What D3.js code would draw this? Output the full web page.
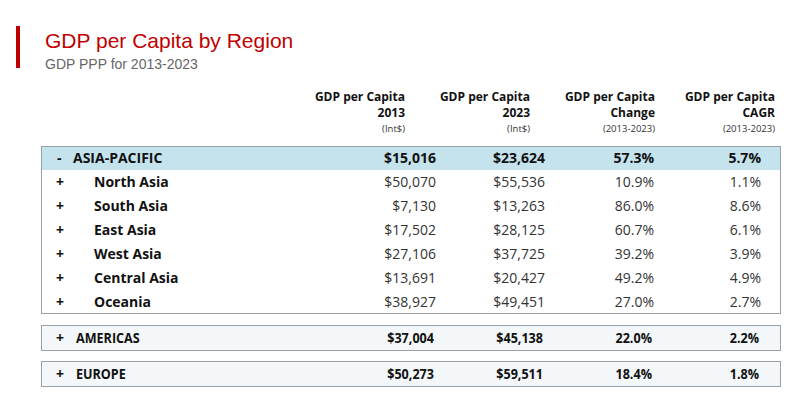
<!DOCTYPE html>
<html>
<head>
<meta charset="utf-8">
<script src="https://cdn.jsdelivr.net/npm/d3@7"></script>
<style>
  body { margin: 0; background: #fff; }
  svg { display: block; }
</style>
</head>
<body>
<div id="chart"></div>
<script>
// Data
const regions = ["ASIA-PACIFIC", "AMERICAS", "EUROPE"];
const regionGdp2013 = [15016, 37004, 50273];
const regionGdp2023 = [23624, 45138, 59511];
const regionChange = [57.3, 22.0, 18.4];
const regionCagr = [5.7, 2.2, 1.8];

const subRegions = ["North Asia", "South Asia", "East Asia", "West Asia", "Central Asia", "Oceania"];
const subGdp2013 = [50070, 7130, 17502, 27106, 13691, 38927];
const subGdp2023 = [55536, 13263, 28125, 37725, 20427, 49451];
const subChange = [10.9, 86.0, 60.7, 39.2, 49.2, 27.0];
const subCagr = [1.1, 8.6, 6.1, 3.9, 4.9, 2.7];

const headers = [
  ["GDP per Capita", "2013", "(Int$)"],
  ["GDP per Capita", "2023", "(Int$)"],
  ["GDP per Capita", "Change", "(2013-2023)"],
  ["GDP per Capita", "CAGR", "(2013-2023)"]
];

const width = 800, height = 403;
const font = "'Open Sans', sans-serif";
const money = d3.format("$,");
const pct = v => d3.format(".1f")(v) + "%";

const svg = d3.select("#chart").append("svg")
    .attr("width", width)
    .attr("height", height);

// Title block
svg.append("rect").attr("x", 16).attr("y", 26).attr("width", 4).attr("height", 42).attr("fill", "#c00000");
svg.append("text").attr("x", 45).attr("y", 48)
    .attr("font-family", "'Liberation Sans', Arial, sans-serif").attr("font-size", 21)
    .attr("fill", "#c00000").text("GDP per Capita by Region");
svg.append("text").attr("x", 45).attr("y", 69)
    .attr("font-family", "'Liberation Sans', Arial, sans-serif").attr("font-size", 14)
    .attr("fill", "#666").text("GDP PPP for 2013-2023");

// Column scales
const cols = [0, 1, 2, 3];
const headX = d3.scaleOrdinal().domain(cols).range([405, 530, 655, 775]);
const valX = d3.scaleOrdinal().domain(cols).range([436, 545, 654, 761]);

// Headers
const head = svg.append("g").attr("font-family", font).attr("text-anchor", "end").attr("fill", "#111");
headers.forEach((h, c) => {
  head.append("text").attr("x", headX(c)).attr("y", 100.5).attr("font-size", 12).attr("font-weight", 700).text(h[0]);
  head.append("text").attr("x", headX(c)).attr("y", 117).attr("font-size", 12).attr("font-weight", 700).text(h[1]);
  head.append("text").attr("x", headX(c)).attr("y", 132).attr("font-size", 9.5).attr("fill", "#333").text(h[2]);
});

const boxX = 41, boxW = 740;

// Asia-Pacific group
const rowY = d3.scaleBand().domain(d3.range(subRegions.length + 1)).range([146, 314]);
const g = svg.append("g").attr("font-family", font);

g.append("rect").attr("x", boxX).attr("y", rowY(0)).attr("width", boxW).attr("height", rowY.bandwidth())
    .attr("fill", "#c5e3ed");
g.append("rect").attr("x", boxX + 0.5).attr("y", 146.5).attr("width", boxW - 1).attr("height", 314 - 146 - 1)
    .attr("fill", "none").attr("stroke", "#9aa0a6");

const ay = rowY(0) + rowY.bandwidth() / 2 + 5;
g.append("text").attr("x", 57).attr("y", ay).attr("font-size", 14).attr("font-weight", 700).attr("fill", "#111").text("-");
g.append("text").attr("x", 73).attr("y", ay).attr("font-size", 14).attr("font-weight", 700).attr("fill", "#111").text(regions[0]);
[money(regionGdp2013[0]), money(regionGdp2023[0]), pct(regionChange[0]), pct(regionCagr[0])].forEach((v, c) => {
  g.append("text").attr("x", valX(c)).attr("y", ay).attr("text-anchor", "end")
      .attr("font-size", 14).attr("font-weight", 700).attr("fill", "#111").text(v);
});

const subs = g.selectAll("g.sub").data(subRegions).join("g")
    .attr("class", "sub")
    .attr("transform", (d, i) => `translate(0,${rowY(i + 1) + rowY.bandwidth() / 2 + 5})`);
subs.append("text").attr("x", 56).attr("font-size", 14).attr("font-weight", 700).attr("fill", "#111").text("+");
subs.append("text").attr("x", 94).attr("font-size", 14).attr("font-weight", 700).attr("fill", "#111").text(d => d);
subs.each(function (d, i) {
  const vals = [money(subGdp2013[i]), money(subGdp2023[i]), pct(subChange[i]), pct(subCagr[i])];
  d3.select(this).selectAll("text.v").data(vals).join("text").attr("class", "v")
      .attr("x", (v, c) => valX(c)).attr("text-anchor", "end")
      .attr("font-size", 14).attr("fill", "#333").text(v => v);
});

// Collapsed groups
const groupY = d3.scaleOrdinal().domain([1, 2]).range([325, 361]);
[1, 2].forEach(r => {
  const top = groupY(r);
  const gg = svg.append("g").attr("font-family", font);
  gg.append("rect").attr("x", boxX + 0.5).attr("y", top + 0.5).attr("width", boxW - 1).attr("height", 25)
      .attr("fill", "#f3f7fa").attr("stroke", "#9aa0a6");
  const y = top + 18;
  gg.append("text").attr("x", 56).attr("y", y).attr("font-size", 14).attr("font-weight", 700).attr("fill", "#111").text("+");
  gg.append("text").attr("x", 76).attr("y", y).attr("font-size", 14).attr("font-weight", 700).attr("fill", "#111")
      .attr("transform", `translate(76,0) scale(0.9,1) translate(-76,0)`).text(regions[r]);
  [money(regionGdp2013[r]), money(regionGdp2023[r]), pct(regionChange[r]), pct(regionCagr[r])].forEach((v, c) => {
    const x = valX(c) - 2;
    gg.append("text").attr("x", x).attr("y", y).attr("text-anchor", "end")
        .attr("transform", `translate(${x},0) scale(0.9,1) translate(${-x},0)`)
        .attr("font-size", 14).attr("font-weight", 700).attr("fill", "#111").text(v);
  });
});
</script>
</body>
</html>
